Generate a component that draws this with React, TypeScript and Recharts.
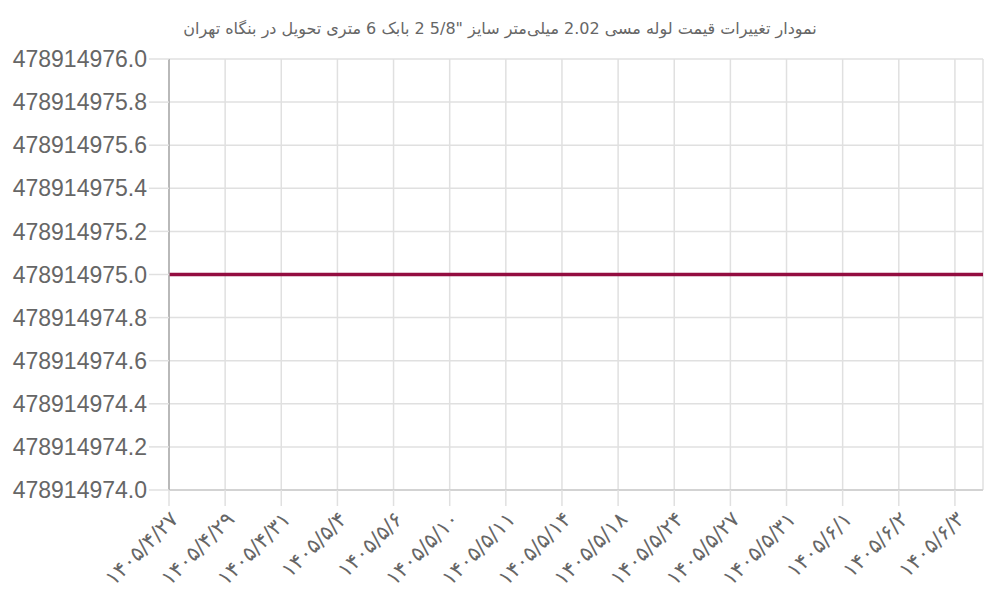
import { LineChart, Line, XAxis, YAxis, CartesianGrid } from 'recharts'

const title = 'نمودار تغییرات قیمت لوله مسی 2.02 میلی‌متر سایز "5/8 2 بابک 6 متری تحویل در بنگاه تهران'

const dateLabels = [
  '۱۴۰۵/۴/۲۷', '۱۴۰۵/۴/۲۹', '۱۴۰۵/۴/۳۱', '۱۴۰۵/۵/۴', '۱۴۰۵/۵/۶',
  '۱۴۰۵/۵/۱۰', '۱۴۰۵/۵/۱۱', '۱۴۰۵/۵/۱۴', '۱۴۰۵/۵/۱۸', '۱۴۰۵/۵/۲۴',
  '۱۴۰۵/۵/۲۷', '۱۴۰۵/۵/۳۱', '۱۴۰۵/۶/۱', '۱۴۰۵/۶/۲', '۱۴۰۵/۶/۳',
]

// one price per record, labels shown on every second record
const prices = [
  478914975, 478914975, 478914975, 478914975, 478914975,
  478914975, 478914975, 478914975, 478914975, 478914975,
  478914975, 478914975, 478914975, 478914975, 478914975,
  478914975, 478914975, 478914975, 478914975, 478914975,
  478914975, 478914975, 478914975, 478914975, 478914975,
  478914975, 478914975, 478914975, 478914975, 478914975,
]

const priceTicks = [
  478914974.0, 478914974.2, 478914974.4, 478914974.6, 478914974.8,
  478914975.0, 478914975.2, 478914975.4, 478914975.6, 478914975.8,
  478914976.0,
]

const data = prices.map((price, idx) => ({ idx, price }))
const labelTicks = dateLabels.map((_, i) => i * 2)

export default function App() {
  return (
    <div style={{ position: 'absolute', left: 0, top: 0, width: 1000, height: 600, background: '#fff' }}>
      <div
        style={{
          position: 'absolute',
          top: 19,
          left: 0,
          width: 1000,
          textAlign: 'center',
          direction: 'rtl',
          fontFamily: '"DejaVu Sans", sans-serif',
          fontSize: 16,
          color: '#666',
        }}
      >
        {title}
      </div>
      <LineChart width={1000} height={600} data={data} margin={{ top: 59, right: 17, left: 0, bottom: 0 }}>
        <CartesianGrid stroke="#e0e0e0" strokeWidth={1.5} />
        <XAxis
          type="number"
          dataKey="idx"
          domain={[0, 29]}
          ticks={labelTicks}
          interval={0}
          tickFormatter={(v: number) => dateLabels[v / 2] ?? ''}
          angle={-45}
          textAnchor="end"
          height={110}
          tickSize={16}
          tickMargin={4}
          axisLine={{ stroke: '#ccc', strokeWidth: 1.5 }}
          tickLine={{ stroke: '#e0e0e0', strokeWidth: 1.5 }}
          tick={{ fontSize: 21, fill: '#666', fontFamily: '"DejaVu Sans", sans-serif' }}
        />
        <YAxis
          domain={[478914974, 478914976]}
          ticks={priceTicks}
          interval={0}
          width={169}
          tickSize={20}
          tickMargin={2}
          tickFormatter={(v: number) => v.toFixed(1)}
          axisLine={{ stroke: '#aaa', strokeWidth: 1.5 }}
          tickLine={{ stroke: '#e0e0e0', strokeWidth: 1.5 }}
          tick={{ fontSize: 23, fill: '#666', fontFamily: '"Liberation Sans", Arial, sans-serif' }}
        />
        <Line
          type="linear"
          dataKey="price"
          stroke="#930d40"
          strokeWidth={3.5}
          dot={false}
          isAnimationActive={false}
        />
      </LineChart>
    </div>
  )
}
